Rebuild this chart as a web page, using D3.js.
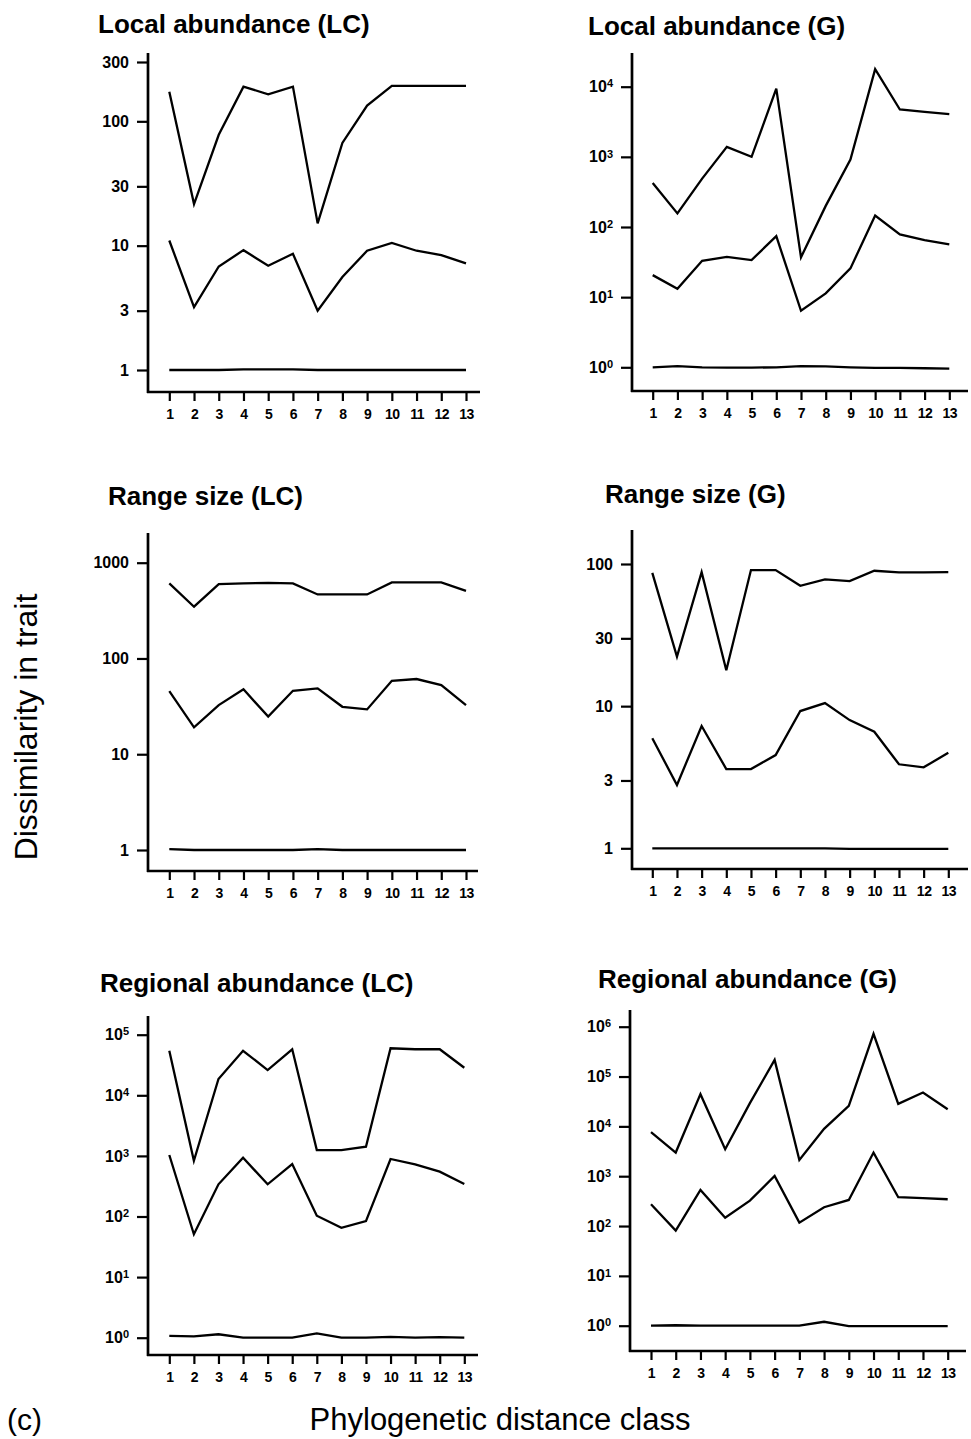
<!DOCTYPE html>
<html>
<head>
<meta charset="utf-8">
<script src="https://cdn.jsdelivr.net/npm/d3@7"></script>
<style>
  body { margin: 0; background: #fff; }
  svg { display: block; font-family: "Liberation Sans", Arial, sans-serif; }
  .line { fill: none; stroke: #000; stroke-width: 2.3; stroke-linejoin: miter; }
  .tick line { stroke: #000; stroke-width: 2.2; }
  .axis-line { stroke: #000; stroke-width: 2.7; }
  .tick text { font-weight: bold; fill: #000; }
</style>
</head>
<body>
<script>
// distance classes on the x axis
var classes = [1, 2, 3, 4, 5, 6, 7, 8, 9, 10, 11, 12, 13];

// Local abundance (LC)
var localLC_high = [173, 21.6, 78, 190, 165, 190, 15.1, 67, 134, 193, 193, 193, 193];
var localLC_mid = [11, 3.2, 6.8, 9.2, 6.9, 8.6, 3.0, 5.6, 9.1, 10.5, 9.1, 8.4, 7.2];
var localLC_low = [1, 1, 1, 1.01, 1.01, 1.01, 1, 1, 1, 1, 1, 1, 1];

// Local abundance (G)
var localG_high = [425, 156, 490, 1390, 1000, 9400, 37, 200, 915, 17800, 4730, 4370, 4060];
var localG_mid = [20.6, 13.2, 33, 37.6, 33.8, 74, 6.4, 11.3, 25.7, 146, 78.5, 65, 56.7];
var localG_low = [1, 1.04, 1, 0.99, 0.99, 1, 1.04, 1.03, 1, 0.98, 0.98, 0.97, 0.96];

// Range size (LC)
var rangeLC_high = [608, 347, 598, 608, 617, 608, 466, 466, 466, 623, 623, 623, 509];
var rangeLC_mid = [45.6, 19.1, 32.6, 47.6, 24.7, 46, 48.7, 31.3, 29.4, 58.5, 61, 52.7, 32.6];
var rangeLC_low = [1.02, 1, 1, 1, 1, 1, 1.02, 1, 1, 1, 1, 1, 1];

// Range size (G)
var rangeG_high = [86.7, 22.3, 87.7, 17.9, 90.6, 90.6, 70.3, 78, 75.8, 89.6, 87.3, 87.3, 87.7];
var rangeG_mid = [5.94, 2.79, 7.25, 3.61, 3.61, 4.53, 9.24, 10.5, 7.98, 6.61, 3.9, 3.71, 4.7];
var rangeG_low = [1, 1, 1, 1, 1, 1, 1, 1, 0.99, 0.99, 0.99, 0.99, 0.99];

// Regional abundance (LC)
var regionalLC_high = [54400, 832, 18600, 54400, 26100, 57400, 1250, 1250, 1420, 59700, 57500, 57500, 28500];
var regionalLC_mid = [1035, 51, 340, 935, 340, 735, 103, 65, 84, 889, 727, 550, 344];
var regionalLC_low = [1.07, 1.05, 1.14, 1, 1, 1, 1.18, 1, 1, 1.03, 1, 1.02, 1];

// Regional abundance (G)
var regionalG_high = [7640, 2980, 44300, 3480, 29200, 216000, 2120, 8900, 25800, 720000, 28300, 47700, 22100];
var regionalG_mid = [274, 81, 531, 147, 324, 1014, 117, 238, 334, 2980, 379, 362, 345];
var regionalG_low = [1, 1.02, 1, 1, 1, 1, 1, 1.2, 0.98, 0.98, 0.98, 0.98, 0.98];

// y tick values per panel
var ticksPlain300 = [1, 3, 10, 30, 100, 300];
var ticksPow4 = [1, 10, 100, 1000, 10000];
var ticksPlain1000 = [1, 10, 100, 1000];
var ticksPlain100 = [1, 3, 10, 30, 100];
var ticksPow5 = [1, 10, 100, 1000, 10000, 100000];
var ticksPow6 = [1, 10, 100, 1000, 10000, 100000, 1000000];

var panels = [
  {title: "Local abundance (LC)", tx: 98, ty: 33, series: [localLC_high, localLC_mid, localLC_low],
   ticks: ticksPlain300, pow: false, ax: 148, ax1: 480, ay: 392, top: 53,
   x0: 169.3, x1: 466, ymin: 370, ymax: 62},
  {title: "Local abundance (G)", tx: 588, ty: 35, series: [localG_high, localG_mid, localG_low],
   ticks: ticksPow4, pow: true, ax: 632, ax1: 968, ay: 391, top: 53,
   x0: 652.7, x1: 949.3, ymin: 367.3, ymax: 86.7},
  {title: "Range size (LC)", tx: 108, ty: 505, series: [rangeLC_high, rangeLC_mid, rangeLC_low],
   ticks: ticksPlain1000, pow: false, ax: 148, ax1: 478, ay: 871, top: 533,
   x0: 169.3, x1: 466, ymin: 850, ymax: 562.7},
  {title: "Range size (G)", tx: 605, ty: 503, series: [rangeG_high, rangeG_mid, rangeG_low],
   ticks: ticksPlain100, pow: false, ax: 632, ax1: 968, ay: 869, top: 530,
   x0: 652.3, x1: 948.3, ymin: 848.3, ymax: 564},
  {title: "Regional abundance (LC)", tx: 100, ty: 992, series: [regionalLC_high, regionalLC_mid, regionalLC_low],
   ticks: ticksPow5, pow: true, ax: 148, ax1: 478, ay: 1355, top: 1016,
   x0: 169.3, x1: 464.3, ymin: 1337.7, ymax: 1034.7},
  {title: "Regional abundance (G)", tx: 598, ty: 988, series: [regionalG_high, regionalG_mid, regionalG_low],
   ticks: ticksPow6, pow: true, ax: 630, ax1: 966, ay: 1351, top: 1010,
   x0: 651, x1: 947.7, ymin: 1325.7, ymax: 1026.7}
];

var svg = d3.select("body").append("svg")
    .attr("width", 971)
    .attr("height", 1439);

panels.forEach(function(p) {
    var x = d3.scaleLinear().domain([1, 13]).range([p.x0, p.x1]);
    var y = d3.scaleLog()
        .domain([1, p.ticks[p.ticks.length - 1]])
        .range([p.ymin, p.ymax]);

    var g = svg.append("g");

    g.append("text")
        .attr("x", p.tx)
        .attr("y", p.ty)
        .style("font-size", "26px")
        .style("font-weight", "bold")
        .text(p.title);

    // y axis
    var yAxis = g.append("g")
        .attr("transform", "translate(" + p.ax + ",0)")
        .call(d3.axisLeft(y).tickValues(p.ticks).tickSize(11).tickPadding(8)
            .tickFormat(function(d) { return p.pow ? "" : d3.format("d")(d); }));
    yAxis.select(".domain").remove();
    yAxis.selectAll(".tick text").style("font-size", "16px");
    if (p.pow) {
        yAxis.selectAll(".tick text").each(function(d) {
            var t = d3.select(this);
            t.text("10");
            t.append("tspan")
                .attr("dy", "-0.45em")
                .style("font-size", "11px")
                .text(Math.round(Math.log10(d)));
        });
    }

    // x axis
    var xAxis = g.append("g")
        .attr("transform", "translate(0," + p.ay + ")")
        .call(d3.axisBottom(x).tickValues(classes).tickSize(9).tickPadding(8));
    xAxis.select(".domain").remove();
    xAxis.selectAll(".tick text")
        .style("font-size", "14px")
        .style("letter-spacing", "-0.5px");

    g.append("line").attr("class", "axis-line")
        .attr("x1", p.ax).attr("x2", p.ax)
        .attr("y1", p.top).attr("y2", p.ay + 1);
    g.append("line").attr("class", "axis-line")
        .attr("x1", p.ax - 1).attr("x2", p.ax1)
        .attr("y1", p.ay).attr("y2", p.ay);

    var line = d3.line()
        .x(function(d, i) { return x(classes[i]); })
        .y(function(d) { return y(d); });

    g.selectAll(".line")
        .data(p.series)
        .enter().append("path")
        .attr("class", "line")
        .attr("d", line);
});

svg.append("text")
    .attr("transform", "translate(37,727) rotate(-90)")
    .style("text-anchor", "middle")
    .style("font-size", "32px")
    .text("Dissimilarity in trait");

svg.append("text")
    .attr("x", 500)
    .attr("y", 1430)
    .style("text-anchor", "middle")
    .style("font-size", "31px")
    .text("Phylogenetic distance class");

svg.append("text")
    .attr("x", 7)
    .attr("y", 1430)
    .style("font-size", "30px")
    .text("(c)");
</script>
</body>
</html>
